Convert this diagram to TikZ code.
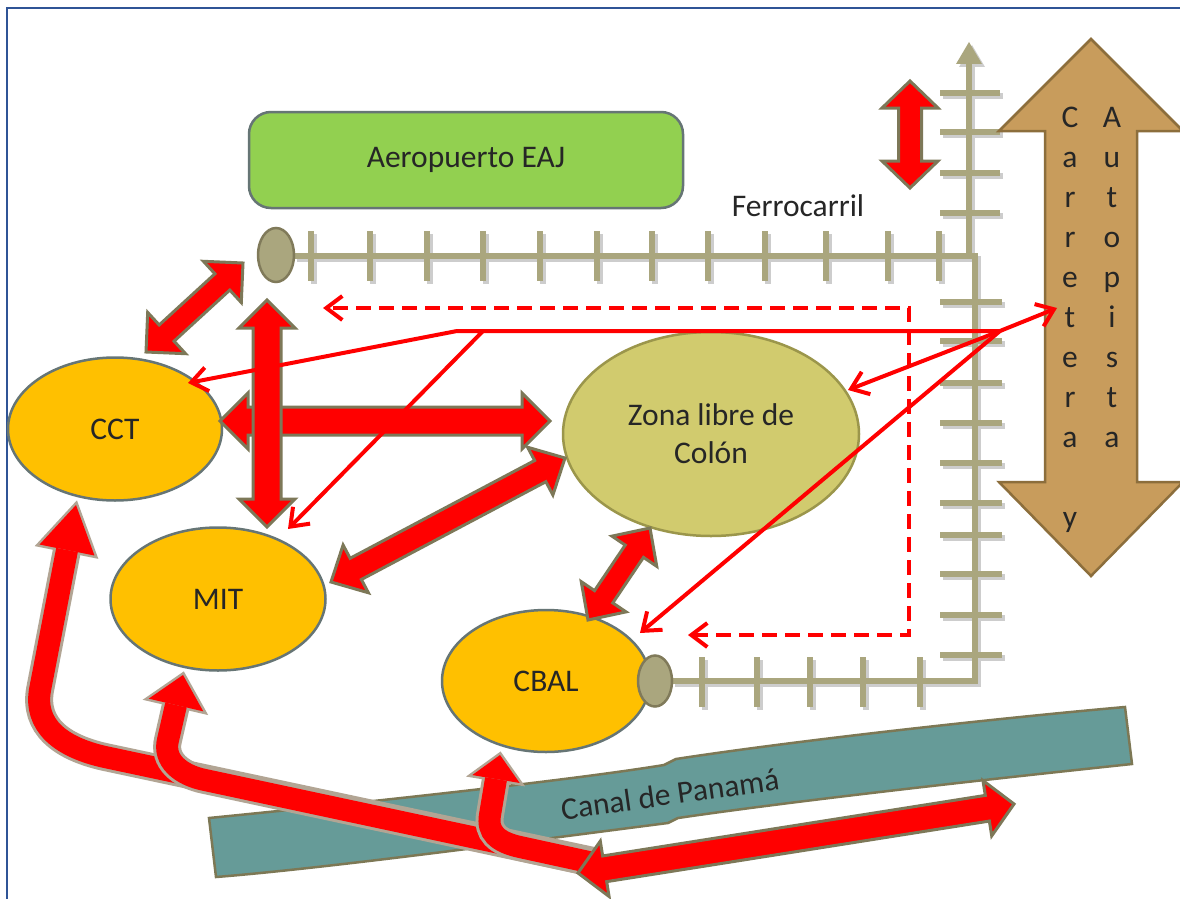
\documentclass[tikz,border=0pt]{standalone}
\usepackage{fontspec}
\setmainfont{Carlito}
\usetikzlibrary{calc,shapes.geometric,arrows.meta}
\definecolor{frameblue}{RGB}{47,84,150}
\definecolor{railc}{RGB}{170,166,126}
\definecolor{railb}{RGB}{128,122,90}
\definecolor{railsh}{RGB}{205,205,205}
\definecolor{arrb}{RGB}{125,120,88}
\definecolor{arrb2}{RGB}{178,165,148}
\definecolor{orangef}{RGB}{255,192,0}
\definecolor{slate}{RGB}{102,117,117}
\definecolor{zonaf}{RGB}{209,203,110}
\definecolor{zonab}{RGB}{155,150,75}
\definecolor{greenf}{RGB}{146,208,80}
\definecolor{canalf}{RGB}{102,155,152}
\definecolor{canalb}{RGB}{125,120,85}
\definecolor{brownf}{RGB}{200,156,92}
\definecolor{brownb}{RGB}{140,110,60}
\definecolor{txt}{RGB}{38,38,38}

% double-headed block arrow: [style]{A}{B}{head length}{head half width}{shaft half width}
\newcommand{\dblarrow}[6][]{%
  \coordinate (DAa) at ($#2!#4!#3$);
  \coordinate (DAb) at ($#3!#4!#2$);
  \draw[blockarrow,#1] #2 -- ($(DAa)!#5!90:#3$) -- ($(DAa)!#6!90:#3$)
    -- ($(DAb)!#6!-90:#2$) -- ($(DAb)!#5!-90:#2$) -- #3
    -- ($(DAb)!#5!90:#2$) -- ($(DAb)!#6!90:#2$)
    -- ($(DAa)!#6!-90:#3$) -- ($(DAa)!#5!-90:#3$) -- cycle;}

% bent arrow: {shaft path}{head base}{tip}{head half width}
\newcommand{\bendarrow}[4]{%
  \draw[line width=28pt, arrb2] #1;
  \filldraw[arrb2, line width=5pt, line join=miter] #3 -- ($#2!#4!90:#3$) -- ($#2!#4!-90:#3$) -- cycle;
  \draw[line width=22pt, red] #1;
  \fill[red] #3 -- ($#2!#4!90:#3$) -- ($#2!#4!-90:#3$) -- cycle;}

% railway geometry
\newcommand{\railgeom}[1]{%
  \draw[#1, line width=6pt] (294,256) -- (975,256) -- (975,681) -- (672,681);
  \draw[#1, line width=6pt] (969,256) -- (969,60);
  \fill[#1] (969,42) -- (982,64) -- (956,64) -- cycle;
  \foreach \x in {311,370,427,483,540,597,652,708,765,826,888,939}
    \draw[#1, line width=5.5pt] (\x,231) -- (\x,281);
  \foreach \y in {93,132,173,213}
    \draw[#1, line width=5.5pt] (940,\y) -- (1000,\y);
  \foreach \y in {302,341,383,423,463,503,535,574,615,655}
    \draw[#1, line width=5.5pt] (940,\y) -- (1002,\y);
  \foreach \x in {702,757,810,863,920}
    \draw[#1, line width=5.5pt] (\x,657) -- (\x,707);}

\begin{document}
\begin{tikzpicture}[x=1pt,y=-1pt,
  every node/.style={font=\fontsize{31.5}{38}\selectfont, text=txt},
  blockarrow/.style={fill=red, draw=arrb, line width=3pt, line join=miter},
  orangeell/.style={ellipse, draw=slate, line width=2.5pt, fill=orangef, inner sep=0pt},
  station/.style={ellipse, draw=railb, fill=railc, line width=2.5pt, inner sep=0pt},
  thinarrow/.style={draw=red, line width=4pt, line join=miter, -{Straight Barb[length=16pt,width=24pt]}},
  dasharrow/.style={draw=red, line width=4pt, dash pattern=on 15pt off 8pt,
     {Straight Barb[length=16pt,width=24pt]}-{Straight Barb[length=16pt,width=24pt]}}]
\useasboundingbox (0,0) rectangle (1180,899);
\fill[white] (0,0) rectangle (1180,899);
\draw[frameblue, line width=2.5pt] (7,899) -- (7,8) -- (1180,8);

% railway
\begin{scope}[shift={(3,3)}]
  \railgeom{railsh}
\end{scope}
\railgeom{railc}

% brown double arrow (Carretera y Autopista)
\draw[fill=brownf, draw=brownb, line width=2.5pt, line join=miter]
  (1091,39) -- (1183,131) -- (1137,131) -- (1137,482) -- (1183,482) -- (1091,576)
  -- (999,482) -- (1045,482) -- (1045,131) -- (999,131) -- cycle;
\foreach \c [count=\i] in {C,a,r,r,e,t,e,r,a,{},y}
  \node[anchor=base, inner sep=0pt] (car\i) at (1070,87+40*\i) {\c};
\foreach \c [count=\i] in {A,u,t,o,p,i,s,t,a}
  \node[anchor=base, inner sep=0pt] (aut\i) at (1112,87+40*\i) {\c};

% nodes
\node[draw=slate, fill=greenf, line width=2.5pt, rounded corners=22pt,
      minimum width=434pt, minimum height=96pt, inner sep=0pt] (aero) at (466,160) {Aeropuerto EAJ};
\node (ferro) at (798,206) {Ferrocarril};
\node[station, minimum width=36pt, minimum height=54pt] (st1) at (276,255) {};
\node[orangeell, minimum width=214pt, minimum height=143pt] (cct) at (115,429) {CCT};
\node[orangeell, minimum width=215pt, minimum height=143pt] (mit) at (218,599) {MIT};
\node[ellipse, draw=zonab, fill=zonaf, line width=2.5pt, inner sep=0pt,
      minimum width=296pt, minimum height=204pt, align=center] (zona) at (711,434) {Zona libre de\\Colón};
\node[orangeell, minimum width=208pt, minimum height=142pt] (cbal) at (546,681) {CBAL};
\node[station, minimum width=34pt, minimum height=51pt] (st2) at (655,681) {};

% canal
\draw[fill=canalf, draw=canalb, line width=2.5pt]
  (209,818) .. controls (330,806) and (560,782) .. (664,765) -- (676,759)
  .. controls (800,740) and (1000,718) .. (1125,707) -- (1132,764)
  .. controls (1000,778) and (800,800) .. (678,818) -- (668,823)
  .. controls (550,838) and (330,868) .. (216,877) -- cycle;
\node[rotate=8, inner sep=0pt] (canaltext) at (670,794) {Canal de Panamá};

% bent arrows from the bottom
\coordinate (c1b) at (67,550); \coordinate (c1t) at (76,505);
\bendarrow{(598,862) -- (105,757) .. controls (60,747) and (34,725) .. (40,690) -- (c1b)}{(c1b)}{(c1t)}{28pt}
\coordinate (c2b) at (176,705); \coordinate (c2t) at (183,675);
\bendarrow{(598,864) -- (205,780) .. controls (180,775) and (163,760) .. (168,740) -- (c2b)}{(c2b)}{(c2t)}{28pt}
\coordinate (c3b) at (496,779); \coordinate (c3t) at (500,755);
\bendarrow{(598,864) -- (520,847) .. controls (497,842) and (487,832) .. (490,815) -- (c3b)}{(c3b)}{(c3t)}{24pt}

% bottom double arrow
\coordinate (bds) at (578,873); \coordinate (bde) at (1014,804);
\dblarrow{(bds)}{(bde)}{27pt}{28pt}{13pt}

% block double arrows
\coordinate (a1s) at (146,352); \coordinate (a1e) at (243,263);
\dblarrow{(a1s)}{(a1e)}{28pt}{28pt}{11pt}
\coordinate (a3s) at (220,421); \coordinate (a3e) at (550,421);
\dblarrow{(a3s)}{(a3e)}{28pt}{28pt}{14pt}
\coordinate (a2s) at (267,300); \coordinate (a2e) at (267,527);
\dblarrow{(a2s)}{(a2e)}{28pt}{28pt}{14pt}
\coordinate (a4s) at (331,582); \coordinate (a4e) at (565,458);
\dblarrow{(a4s)}{(a4e)}{28pt}{27pt}{12pt}
\coordinate (a5s) at (650,528); \coordinate (a5e) at (588,620);
\dblarrow{(a5s)}{(a5e)}{28pt}{27pt}{11pt}
\coordinate (a6s) at (910,81); \coordinate (a6e) at (910,188);
\dblarrow{(a6s)}{(a6e)}{27pt}{28pt}{11.5pt}

% thin red connectors
\coordinate (d1) at (688,635); \coordinate (d2) at (909,635);
\coordinate (d3) at (909,308); \coordinate (d4) at (323,308);
\draw[dasharrow] (d1) -- (d2) -- (d3) -- (d4);
\coordinate (J) at (1000,331);
\coordinate (h1) at (457,331); \coordinate (h2) at (483,331);
\coordinate (tA) at (1057,308); \coordinate (tZ) at (848,390);
\coordinate (tB) at (640,633); \coordinate (tC) at (188,383);
\coordinate (tM) at (288,529);
\draw[thinarrow] (J) -- (h1) -- (tC);
\draw[thinarrow] (h2) -- (tM);
\draw[thinarrow] (J) -- (tA);
\draw[thinarrow] (J) -- (tZ);
\draw[thinarrow] (J) -- (tB);
\end{tikzpicture}
\end{document}
